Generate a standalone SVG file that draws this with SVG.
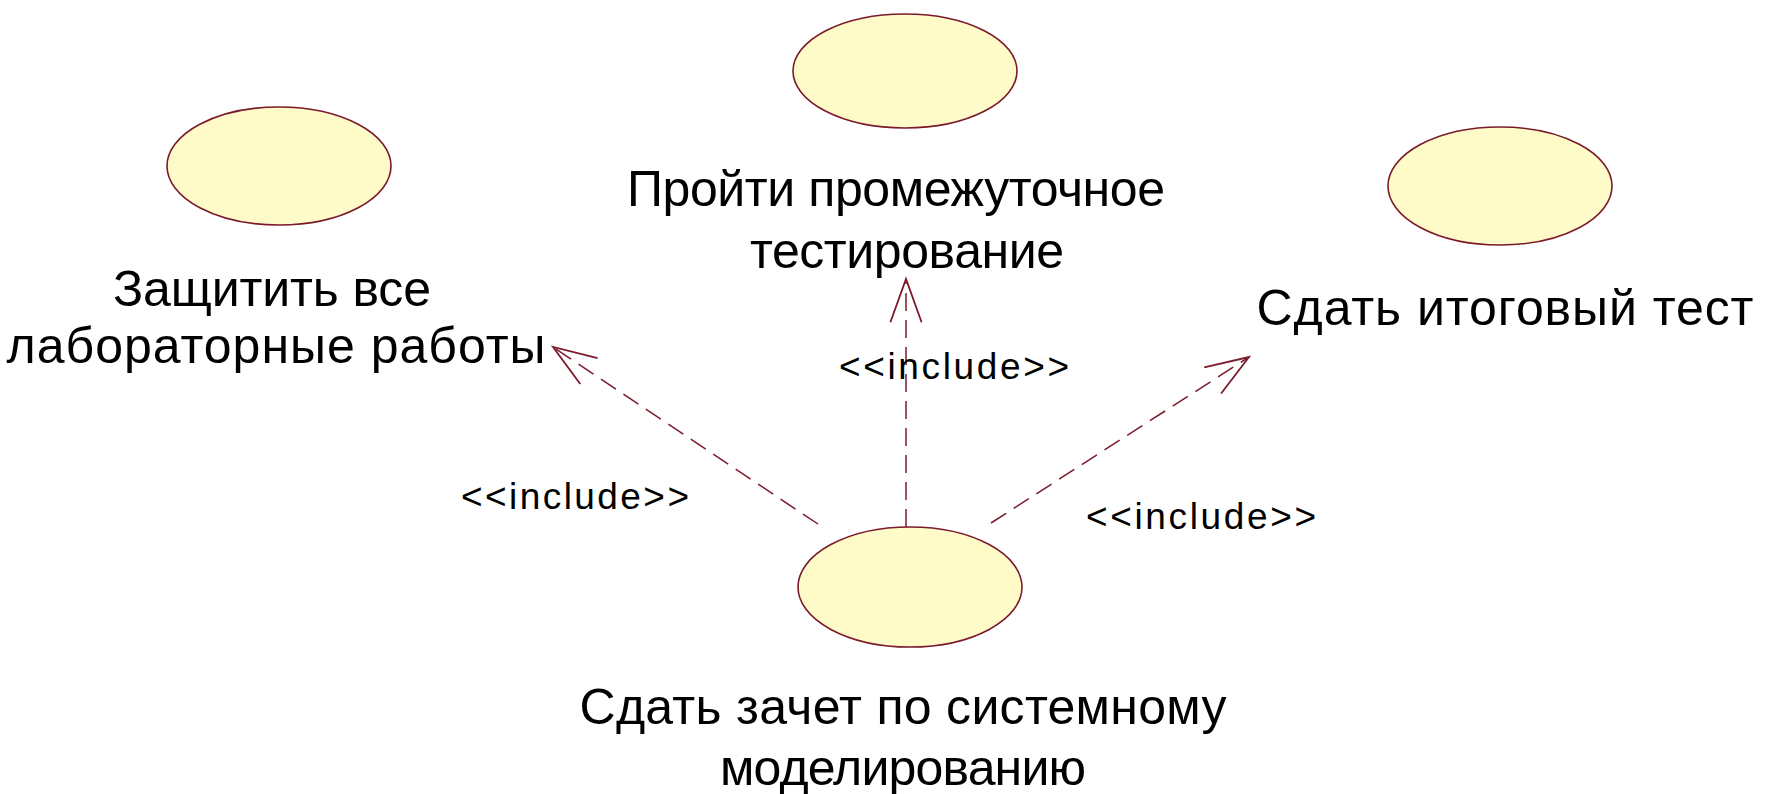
<svg xmlns="http://www.w3.org/2000/svg" width="1765" height="794" viewBox="0 0 1765 794">
<style>
.uc{fill:#fffbc8;stroke:#7a1a2a;stroke-width:1.6}
.lbl{font-family:"Liberation Sans",Arial,sans-serif;font-size:50px;fill:#000;text-anchor:middle}
.st{font-family:"Liberation Sans",Arial,sans-serif;font-size:37px;fill:#000}
.dep{fill:none;stroke:#7a1a2a;stroke-width:1.5;stroke-dasharray:18 9;marker-end:url(#open)}
</style>
<defs>
<marker id="open" markerUnits="userSpaceOnUse" markerWidth="60" markerHeight="60" viewBox="-45 -25 50 50" refX="0" refY="0" orient="auto">
<path d="M-36,-13 L0,0 L-36,13" fill="none" stroke="#7a1a2a" stroke-width="1.5" stroke-dasharray="none"/>
</marker>
</defs>
<rect width="1765" height="794" fill="#fff"/>
<g id="connectors">
<path class="dep" d="M818,524 L553,347"/>
<path class="dep" d="M906,527 L906,279"/>
<path class="dep" d="M991,523 L1249,357"/>
<text class="st" x="461" y="509" textLength="228" lengthAdjust="spacing">&lt;&lt;include&gt;&gt;</text>
<text class="st" x="839" y="379" textLength="230" lengthAdjust="spacing">&lt;&lt;include&gt;&gt;</text>
<text class="st" x="1086" y="529" textLength="230" lengthAdjust="spacing">&lt;&lt;include&gt;&gt;</text>
</g>
<g id="uc-labs">
<ellipse class="uc" cx="279" cy="166" rx="112" ry="59"/>
<text class="lbl" x="272" y="306" textLength="318" lengthAdjust="spacing">Защитить все</text>
<text class="lbl" x="276" y="363" textLength="539" lengthAdjust="spacing">лабораторные работы</text>
</g>
<g id="uc-midtest">
<ellipse class="uc" cx="905" cy="71" rx="112" ry="57"/>
<text class="lbl" x="896" y="206" textLength="538" lengthAdjust="spacing">Пройти промежуточное</text>
<text class="lbl" x="907" y="268" textLength="314" lengthAdjust="spacing">тестирование</text>
</g>
<g id="uc-final">
<ellipse class="uc" cx="1500" cy="186" rx="112" ry="59"/>
<text class="lbl" x="1505" y="325" textLength="497" lengthAdjust="spacing">Сдать итоговый тест</text>
</g>
<g id="uc-credit">
<ellipse class="uc" cx="910" cy="587" rx="112" ry="60"/>
<text class="lbl" x="903" y="724" textLength="647" lengthAdjust="spacing">Сдать зачет по системному</text>
<text class="lbl" x="903" y="785" textLength="366" lengthAdjust="spacing">моделированию</text>
</g>
</svg>
